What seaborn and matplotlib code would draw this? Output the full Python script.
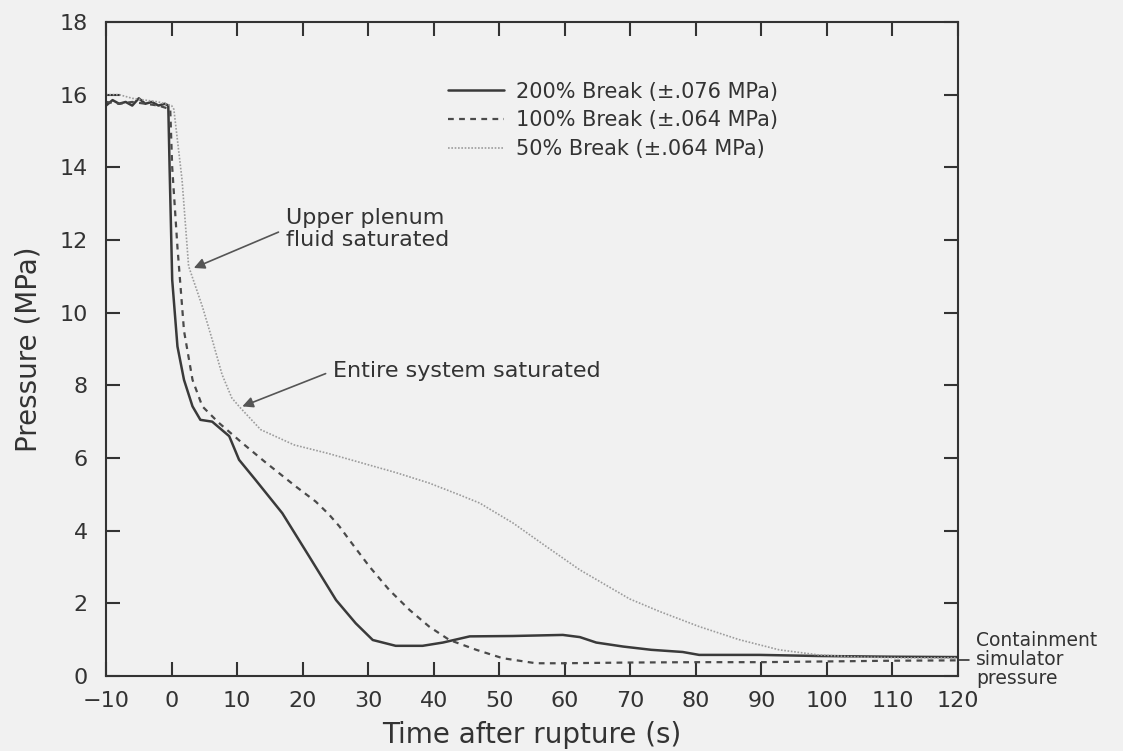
import numpy as np
import pandas as pd
import matplotlib
matplotlib.use("Agg")
import matplotlib.pyplot as plt
import seaborn as sns

# Pressure histories for the three break sizes (time in s, pressure in MPa)
t_200 = [-10, -9, -8, -7, -6, -5, -4, -3, -2, -1, -0.5, -0.3, 0.1, 0.9, 1.9, 3.2,
         4.4, 6.2, 8.8, 10.3, 12.8, 16.9, 21.0, 25.1, 28.1, 30.7, 34.2, 38.3, 41.4,
         45.5, 52, 59.7, 62.3, 64.8, 68.9, 73.2, 78, 80.5, 89.7, 98.7, 110, 120]
p_200 = [15.7, 15.85, 15.75, 15.8, 15.7, 15.9, 15.75, 15.8, 15.7, 15.75, 15.7,
         14.0, 10.9, 9.07, 8.15, 7.42, 7.05, 7.0, 6.6, 5.95, 5.4, 4.48, 3.29, 2.09,
         1.45, 0.99, 0.83, 0.83, 0.92, 1.09, 1.1, 1.13, 1.07, 0.92, 0.81, 0.72,
         0.66, 0.58, 0.58, 0.55, 0.53, 0.52]

t_100 = [-10, -8, -6, -4, -2, -0.2, 0.1, 0.9, 1.9, 3.2, 4.7, 7.2, 10.8, 14.2, 19,
         22, 24, 25.6, 27.1, 30.2, 33.2, 36.3, 39.3, 42.4, 46.5, 50.5, 55.6, 59.7,
         69.9, 80, 90, 100, 110, 120]
p_100 = [15.8, 15.75, 15.8, 15.75, 15.7, 15.6, 14.0, 11.8, 9.5, 8.15, 7.42, 6.97,
         6.41, 5.9, 5.21, 4.8, 4.45, 4.12, 3.75, 3.01, 2.37, 1.82, 1.36, 0.99,
         0.72, 0.49, 0.35, 0.35, 0.37, 0.38, 0.38, 0.4, 0.42, 0.43]

t_50 = [-10, -8, -6, -4, -2, 0, 0.35, 1.6, 2.6, 4.7, 6.2, 7.7, 9.2, 10.5, 13.6,
        18.7, 24, 29.1, 34.2, 39.3, 44, 47, 52.1, 57.2, 62.3, 69.9, 74.4, 80.5,
        86.6, 92.7, 98.7, 104.8, 112, 120]
p_50 = [16.0, 16.0, 15.9, 15.85, 15.8, 15.7, 15.6, 13.66, 11.28, 10.17, 9.26,
        8.3, 7.65, 7.38, 6.78, 6.36, 6.12, 5.86, 5.6, 5.31, 4.98, 4.76, 4.21, 3.56,
        2.92, 2.12, 1.78, 1.36, 1.0, 0.72, 0.58, 0.52, 0.5, 0.5]

series_labels = ["200% Break (\u00b1.076 MPa)",
                 "100% Break (\u00b1.064 MPa)",
                 "50% Break (\u00b1.064 MPa)"]
x_ticks = list(range(-10, 121, 10))
y_ticks = list(range(0, 19, 2))

bg = "#f1f1f1"
ink = "#333333"

sns.set_theme(style="ticks")
plt.rcParams["font.family"] = ["DejaVu Sans"]

fig = plt.figure(figsize=(11.23, 7.51), dpi=100, facecolor=bg)
ax = fig.add_axes([0.0944, 0.0999, 0.7587, 0.8708])
ax.set_facecolor(bg)

styles = [
    dict(color="#3a3a3a", lw=1.8, linestyle="-"),
    dict(color="#4a4a4a", lw=1.6, linestyle=(0, (2.6, 2.4))),
    dict(color="#9c9c9c", lw=1.2, linestyle=(0, (1, 1))),
]
for (tt, pp), lab, st in zip([(t_200, p_200), (t_100, p_100), (t_50, p_50)],
                             series_labels, styles):
    df = pd.DataFrame({"t": tt, "p": pp})
    sns.lineplot(data=df, x="t", y="p", ax=ax, label=lab, sort=False, **st)

ax.set_xlim(-10, 120)
ax.set_ylim(0, 18)
ax.set_xticks(x_ticks)
ax.set_yticks(y_ticks)

for side in ["left", "right", "top", "bottom"]:
    ax.spines[side].set_visible(True)
    ax.spines[side].set_color(ink)
    ax.spines[side].set_linewidth(1.5)

ax.tick_params(axis="both", which="major", direction="in", length=10, width=1.5,
               color=ink, labelcolor=ink, labelsize=16, top=True, right=True)
ax.tick_params(axis="x", pad=11)
ax.tick_params(axis="y", pad=13)

ax.set_xlabel("Time after rupture (s)", fontsize=20, color=ink, labelpad=7)
ax.set_ylabel("Pressure (MPa)", fontsize=20, color=ink, labelpad=12)

leg = ax.legend(loc="upper left", bbox_to_anchor=(0.401, 0.909), frameon=False,
                fontsize=15, handlelength=2.7, handletextpad=0.6,
                labelspacing=0.42, borderpad=0, borderaxespad=0)
for txt in leg.get_texts():
    txt.set_color(ink)

arrow = dict(arrowstyle="-|>", color="#555555", lw=1.2, mutation_scale=16,
             shrinkA=3, shrinkB=0, relpos=(0, 0.5))
ax.annotate("Upper plenum\nfluid saturated", xy=(3.4, 11.23), xytext=(17.4, 12.3),
            fontsize=16, color=ink, ha="left", va="center", linespacing=1.15,
            arrowprops=arrow)
ax.annotate("Entire system saturated", xy=(10.8, 7.42), xytext=(24.6, 8.4),
            fontsize=16, color=ink, ha="left", va="center", arrowprops=arrow)
ax.annotate("Containment\nsimulator\npressure", xy=(120, 0.44), xytext=(122.8, 0.44),
            fontsize=13.5, color=ink, ha="left", va="center", linespacing=1.0,
            annotation_clip=False,
            arrowprops=dict(arrowstyle="-", color=ink, lw=1.2, shrinkA=3,
                            shrinkB=0, relpos=(0, 0.5)))

fig.savefig("out.png", dpi=100, facecolor=bg)
